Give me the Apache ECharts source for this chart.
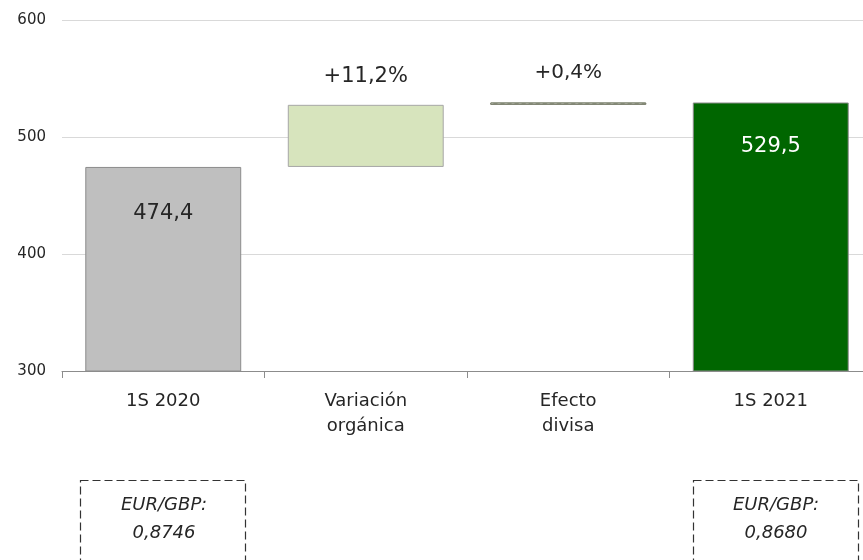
<!DOCTYPE html>
<html>
<head>
<meta charset="utf-8">
<script src="https://cdn.jsdelivr.net/npm/echarts@6/dist/echarts.min.js"></script>
<style>
  html, body { margin: 0; padding: 0; background: #fff; overflow: hidden; }
  #main { width: 880px; height: 560px; }
</style>
</head>
<body>
<div id="main"></div>
<script>
// datos del gráfico
var categorias = ["1S 2020", "Variación\norgánica", "Efecto\ndivisa", "1S 2021"];
var valores = [474.4, 53.1, 2.0, 529.5];
var bases = [0, 474.4, 527.5, 0];
var etiquetas = ["474,4", "+11,2%", "+0,4%", "529,5"];
var colores = ["#BFBFBF", "#D7E4BD", "#B4B8A4", "#006600"];
var bordes = ["#8C8C8C", "#A6A6A6", "#7E8270", "#8C8C8C"];
var ejeY = { min: 300, max: 600, interval: 100 };
var cambios = ["EUR/GBP:\n0,8746", "EUR/GBP:\n0,8680"];

var fuente = "'DejaVu Sans', sans-serif";

var myChart = echarts.init(document.getElementById("main"));

// cada barra lleva su color y su etiqueta
function getDatos() {
  return valores.map(function (v, i) {
    var item = {
      value: v,
      itemStyle: { color: colores[i], borderColor: bordes[i], borderWidth: 1 },
    };
    if (i == 0) {
      item.label = { show: true, position: "insideTop", distance: 36, color: "#262626", fontSize: 21 };
    } else if (i == 3) {
      item.label = { show: true, position: "insideTop", distance: 34, color: "#ffffff", fontSize: 21 };
    } else if (i == 1) {
      item.label = { show: true, position: "top", distance: 18, color: "#262626", fontSize: 21 };
    } else {
      item.label = { show: true, position: "top", distance: 20, color: "#262626", fontSize: 20 };
      item.itemStyle.decal = {
        symbol: "rect",
        symbolSize: 1,
        color: "rgba(255,255,255,0.55)",
        dashArrayX: [1, 0],
        dashArrayY: [2, 3],
        rotation: -Math.PI / 4,
      };
    }
    return item;
  });
}

var option = {
  animation: false,
  backgroundColor: "#ffffff",
  textStyle: { fontFamily: fuente },
  grid: { left: 62, right: 8, top: 20, bottom: 189 },
  xAxis: {
    type: "category",
    data: categorias,
    axisLine: { show: true, lineStyle: { color: "#8C8C8C" } },
    axisTick: { show: true, length: 7, lineStyle: { color: "#8C8C8C" } },
    axisLabel: { color: "#262626", fontSize: 18, margin: 18, lineHeight: 25, fontFamily: fuente },
  },
  yAxis: {
    type: "value",
    min: ejeY.min,
    max: ejeY.max,
    interval: ejeY.interval,
    axisLine: { show: false },
    axisTick: { show: false },
    axisLabel: { color: "#262626", fontSize: 15, margin: 16, fontFamily: fuente },
    splitLine: { lineStyle: { color: "#D9D9D9" } },
  },
  series: [
    {
      name: "base",
      type: "bar",
      stack: "total",
      barCategoryGap: "23%",
      itemStyle: { color: "transparent" },
      emphasis: { disabled: true },
      data: bases,
    },
    {
      name: "valor",
      type: "bar",
      stack: "total",
      barCategoryGap: "23%",
      label: {
        fontFamily: fuente,
        formatter: function (p) {
          return etiquetas[p.dataIndex];
        },
      },
      data: getDatos(),
    },
  ],
  graphic: [
    {
      type: "rect",
      shape: { x: 80.5, y: 480.5, width: 165, height: 100 },
      style: { fill: "none", stroke: "#333333", lineWidth: 1.2, lineDash: [8, 4] },
    },
    {
      type: "text",
      x: 164,
      y: 519,
      style: {
        text: cambios[0],
        fill: "#262626",
        font: "italic 18px " + fuente,
        align: "center",
        verticalAlign: "middle",
        lineHeight: 28,
      },
    },
    {
      type: "rect",
      shape: { x: 693.5, y: 480.5, width: 165, height: 100 },
      style: { fill: "none", stroke: "#333333", lineWidth: 1.2, lineDash: [8, 4] },
    },
    {
      type: "text",
      x: 776,
      y: 519,
      style: {
        text: cambios[1],
        fill: "#262626",
        font: "italic 18px " + fuente,
        align: "center",
        verticalAlign: "middle",
        lineHeight: 28,
      },
    },
  ],
};
option && myChart.setOption(option);
</script>
</body>
</html>
